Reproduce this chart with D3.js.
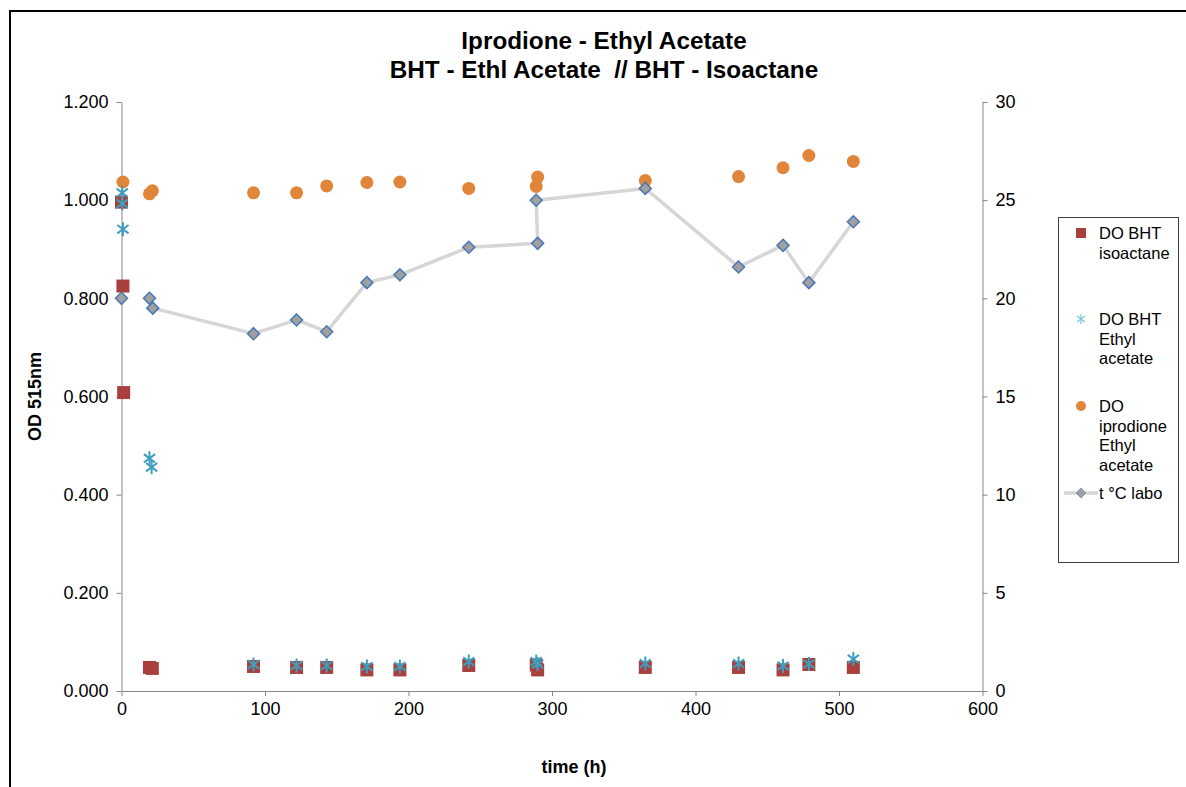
<!DOCTYPE html>
<html><head><meta charset="utf-8">
<script src="https://cdn.jsdelivr.net/npm/d3@7"></script>
<style>
body{margin:0;background:#fff;}
svg text{font-family:"Liberation Sans",Arial,sans-serif;}
</style></head>
<body><svg id="c" width="1186" height="787"></svg>
<script>
// ---- data ----
const titleLines = ["Iprodione - Ethyl Acetate", "BHT - Ethl Acetate  // BHT - Isoactane"];
const xTicks = [0,100,200,300,400,500,600];
const yLeftTicks = [0,0.2,0.4,0.6,0.8,1.0,1.2];
const yRightTicks = [0,5,10,15,20,25,30];

// DO BHT isoactane (left axis)
const isoTime = [0, 1, 1.5, 19.5, 21.5, 92, 122, 143, 171, 194, 242, 289, 290, 365, 430, 461, 479, 510];
const isoOD   = [0.996, 0.825, 0.608, 0.048, 0.046, 0.050, 0.048, 0.048, 0.043, 0.043, 0.052, 0.053, 0.043, 0.048, 0.048, 0.043, 0.054, 0.048];

// DO BHT Ethyl acetate (left axis)
const ethTime = [0.5, 0.5, 1, 19.5, 21, 92, 122, 143, 171, 194, 242, 289, 290, 365, 430, 461, 479, 510];
const ethOD   = [1.015, 0.993, 0.941, 0.474, 0.456, 0.054, 0.052, 0.052, 0.050, 0.050, 0.060, 0.060, 0.055, 0.056, 0.056, 0.051, 0.055, 0.065];

// DO iprodione Ethyl acetate (left axis)
const iproTime = [1, 19.5, 21.5, 92, 122, 143, 171, 194, 242, 289, 290, 365, 430, 461, 479, 510];
const iproOD   = [1.037, 1.013, 1.019, 1.015, 1.015, 1.029, 1.036, 1.037, 1.024, 1.028, 1.047, 1.040, 1.048, 1.066, 1.091, 1.079];

// t °C labo (right axis)
const tempTime = [0, 19.5, 21.8, 92, 122, 143, 171, 194, 242, 290, 289, 365, 430, 461, 479, 510];
const tempC    = [20.0, 20.0, 19.5, 18.2, 18.9, 18.3, 20.8, 21.2, 22.6, 22.8, 25.0, 25.6, 21.6, 22.7, 20.8, 23.9];
const tempConnected = [false, false, true, true, true, true, true, true, true, true, true, true, true, true, true, true];

const legendItems = [
  {key:"iso", lines:["DO BHT","isoactane"]},
  {key:"eth", lines:["DO BHT","Ethyl","acetate"]},
  {key:"ipro", lines:["DO","iprodione","Ethyl","acetate"]},
  {key:"temp", lines:["t °C labo"]}
];

// ---- drawing ----
const svg = d3.select("#c");
const L=121.5, R=982.5, T=102, B=691;
const axisColor = "#868686";
const cRed="#A9403E", cTeal="#3C9FBD", cOrange="#E0853A", cDiaFill="#A0A0A0", cDiaStroke="#4A78B4", cLine="#D6D6D6";

// outer border
svg.append("path").attr("d","M10,787 L10,11 L1186,11").attr("fill","none").attr("stroke","#000").attr("stroke-width",2);

const x = d3.scaleLinear().domain([0,600]).range([L,R]);
const yL = d3.scaleLinear().domain([0,1.2]).range([B,T]);
const yR = d3.scaleLinear().domain([0,30]).range([B,T]);

// title
svg.append("text").attr("x",604).attr("y",49).attr("text-anchor","middle")
  .attr("font-size",24.3).attr("font-weight","bold").text(titleLines[0]);
svg.append("text").attr("x",604).attr("y",78).attr("text-anchor","middle")
  .attr("font-size",24.3).attr("font-weight","bold").style("white-space","pre").text(titleLines[1]);

// axes
function styleAxis(g){
  g.selectAll("path,line").attr("stroke",axisColor);
  g.selectAll("text").attr("font-size",18).attr("fill","#000").attr("font-family","'Liberation Sans',Arial");
}
svg.append("g").attr("transform",`translate(0,${B})`)
  .call(d3.axisBottom(x).tickValues(xTicks).tickFormat(d3.format("d")).tickSizeInner(5).tickSizeOuter(0).tickPadding(6))
  .call(styleAxis);
svg.append("g").attr("transform",`translate(${L},0)`)
  .call(d3.axisLeft(yL).tickValues(yLeftTicks).tickFormat(d3.format(".3f")).tickSizeInner(5).tickSizeOuter(0).tickPadding(8))
  .call(styleAxis);
svg.append("g").attr("transform",`translate(${R},0)`)
  .call(d3.axisRight(yR).tickValues(yRightTicks).tickFormat(d3.format("d")).tickSizeInner(5).tickSizeOuter(0).tickPadding(8))
  .call(styleAxis);

// axis titles
svg.append("text").attr("transform",`translate(41,${(T+B)/2}) rotate(-90)`).attr("text-anchor","middle")
  .attr("font-size",18).attr("font-weight","bold").text("OD 515nm");
svg.append("text").attr("x",574).attr("y",773).attr("text-anchor","middle")
  .attr("font-size",18).attr("font-weight","bold").text("time (h)");

// marker helpers
function square(g,cx,cy,s){ g.append("rect").attr("x",cx-s/2).attr("y",cy-s/2).attr("width",s).attr("height",s).attr("fill",cRed); }
function star(g,cx,cy,s){
  const h=s/2, d=h*0.8;
  g.append("path").attr("d",`M${cx},${cy-h}L${cx},${cy+h}M${cx-d},${cy-d*0.75}L${cx+d},${cy+d*0.75}M${cx-d},${cy+d*0.75}L${cx+d},${cy-d*0.75}`)
   .attr("stroke",cTeal).attr("stroke-width",2).attr("fill","none");
}
function circle(g,cx,cy,r){ g.append("circle").attr("cx",cx).attr("cy",cy).attr("r",r).attr("fill",cOrange); }
function diamond(g,cx,cy,h){ g.append("path").attr("d",`M${cx},${cy-h}L${cx+h},${cy}L${cx},${cy+h}L${cx-h},${cy}Z`)
  .attr("fill",cDiaFill).attr("stroke",cDiaStroke).attr("stroke-width",1.5); }

// temperature line
const tempPts = tempTime.map((t,i)=>({t, v:tempC[i], c:tempConnected[i]}));
svg.append("path").datum(tempPts.filter(d=>d.c))
  .attr("d",d3.line().x(d=>x(d.t)).y(d=>yR(d.v)))
  .attr("fill","none").attr("stroke",cLine).attr("stroke-width",3.5).attr("stroke-linejoin","round");

const gIpro = svg.append("g");
iproTime.forEach((t,i)=>circle(gIpro,x(t),yL(iproOD[i]),6.5));
const gIso = svg.append("g");
isoTime.forEach((t,i)=>square(gIso,x(t),yL(isoOD[i]),13));
const gEth = svg.append("g");
ethTime.forEach((t,i)=>star(gEth,x(t),yL(ethOD[i]),14));
const gTemp = svg.append("g");
tempPts.forEach(d=>diamond(gTemp,x(d.t),yR(d.v),6));

// legend
svg.append("rect").attr("x",1058.5).attr("y",217.5).attr("width",120).attr("height",345)
  .attr("fill","#fff").attr("stroke","#404040").attr("stroke-width",1);
const legY = [233, 319, 406, 493];
const lg = svg.append("g");
legendItems.forEach((it,i)=>{
  const cy = legY[i];
  if(it.key==="iso") lg.append("rect").attr("x",1081-5).attr("y",cy-5).attr("width",10).attr("height",10).attr("fill",cRed);
  if(it.key==="eth") { const h=5; lg.append("path").attr("d",`M1081,${cy-h}L1081,${cy+h}M${1081-4},${cy-3}L${1081+4},${cy+3}M${1081-4},${cy+3}L${1081+4},${cy-3}`).attr("stroke","#7CC3D9").attr("stroke-width",1.2); }
  if(it.key==="ipro") lg.append("circle").attr("cx",1081).attr("cy",cy).attr("r",5).attr("fill",cOrange);
  if(it.key==="temp"){ lg.append("line").attr("x1",1064).attr("x2",1098).attr("y1",cy).attr("y2",cy).attr("stroke",cLine).attr("stroke-width",3.5);
    lg.append("path").attr("d",`M1081,${cy-5}L1086,${cy}L1081,${cy+5}L1076,${cy}Z`).attr("fill",cDiaFill).attr("stroke","#7A9CC6").attr("stroke-width",1); }
  it.lines.forEach((ln,j)=>{
    lg.append("text").attr("x",1099).attr("y",cy+6+j*19.5).attr("font-size",16.5).attr("fill","#000").text(ln);
  });
});
</script></body></html>
